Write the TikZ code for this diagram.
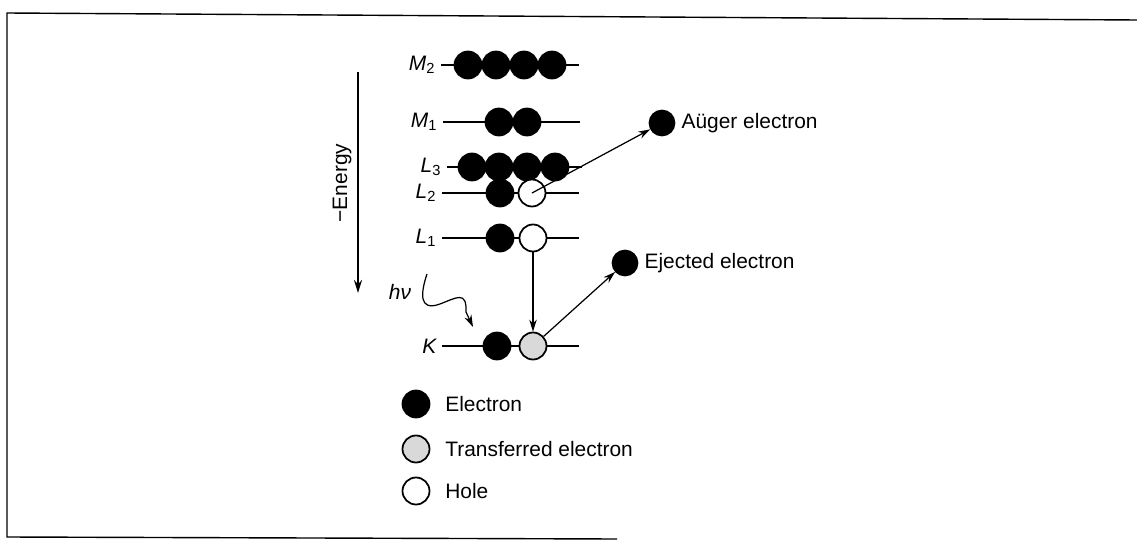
\documentclass[tikz,border=0pt]{standalone}
\usepackage{fontspec}
\setmainfont{Liberation Sans}
\usetikzlibrary{arrows.meta}

\begin{document}
\begin{tikzpicture}[x=0.02cm, y=-0.02cm, font=\fontsize{11.9}{14}\selectfont,
    elec/.style={circle, draw, line width=1pt, fill=black, inner sep=0pt, minimum size=0.54cm},
    hole/.style={elec, fill=white},
    trans/.style={elec, fill=black!15},
    lvl/.style={anchor=east, inner sep=3pt, font=\fontsize{11.9}{14}\selectfont\itshape},
    arr/.style={-{Stealth[length=2.4mm, width=1.5mm]}, line width=0.7pt}]
    \useasboundingbox (0,0) rectangle (1137,541);
    % Draw the frame
    \draw[line width=0.8pt] (1137,20) -- (7,13) -- (7,537) -- (617,539);

    % Energy axis
    \draw[-{Stealth[length=2.6mm, width=1.6mm]}, line width=1.4pt] (358,72) -- (358,293);
    \node[rotate=90] (energy) at (342,183) {−Energy};

    % Level labels and lines
    \node[lvl] (lM2) at (441,65) {M\textsubscript{\upshape 2}};
    \node[lvl] (lM1) at (443,122) {M\textsubscript{\upshape 1}};
    \node[lvl] (lL3) at (447,167) {L\textsubscript{\upshape 3}};
    \node[lvl] (lL2) at (442,193) {L\textsubscript{\upshape 2}};
    \node[lvl] (lL1) at (442,238) {L\textsubscript{\upshape 1}};
    \node[lvl] (lK) at (442,346) {K};
    \coordinate (eM2) at (579,65);
    \coordinate (eM1) at (580,122);
    \coordinate (eL3) at (582,167);
    \coordinate (eL2) at (579,193);
    \coordinate (eL1) at (579,238);
    \coordinate (eK) at (579,346);
    \foreach \s in {M2,M1,L3,L2,L1,K} \draw[line width=0.8pt] (l\s.east) -- (e\s);

    % Electrons and holes
    \foreach \x [count=\i] in {468,496,524,552} \node[elec] (m2\i) at (\x,65) {};
    \foreach \x [count=\i] in {499,527} \node[elec] (m1\i) at (\x,122) {};
    \foreach \x [count=\i] in {472,499,527,555} \node[elec] (l3\i) at (\x,167) {};
    \node[elec] (l2a) at (500,193) {};
    \node[hole] (l2b) at (532,193) {};
    \node[elec] (l1a) at (500,238) {};
    \node[hole] (l1b) at (533,238) {};
    \node[elec] (ka) at (497,346) {};
    \node[trans] (kb) at (533,346) {};

    % Emitted electrons
    \node[elec, minimum size=0.5cm] (auger) at (662,123) {};
    \node[anchor=west] (augerlbl) at (auger.east) {Aüger electron};
    \node[elec, minimum size=0.5cm] (eject) at (625,263) {};
    \node[anchor=west] (ejectlbl) at (eject.east) {Ejected electron};

    % Transitions
    \draw[arr] (l2b.center) -- (auger);
    \draw[arr] (l1b) -- (kb);
    \draw[arr] (kb) -- (eject);

    % Incoming photon
    \node (hv) at (400,292) {\itshape hν};
    \coordinate (photon) at (427,274);
    \draw[arr] (photon) .. controls (421,292) and (418,312) .. (440,304)
        .. controls (456,298) and (467,290) .. (466,312) -- (473,327);

    % Legend
    \node[elec] (legE) at (416,404) {};
    \node[anchor=west, inner sep=0pt] (legEt) at (445,404) {Electron};
    \node[trans] (legT) at (416,449) {};
    \node[anchor=west, inner sep=0pt] (legTt) at (445,449) {Transferred electron};
    \node[hole] (legH) at (416,491) {};
    \node[anchor=west, inner sep=0pt] (legHt) at (445,491) {Hole};
\end{tikzpicture}
\end{document}
